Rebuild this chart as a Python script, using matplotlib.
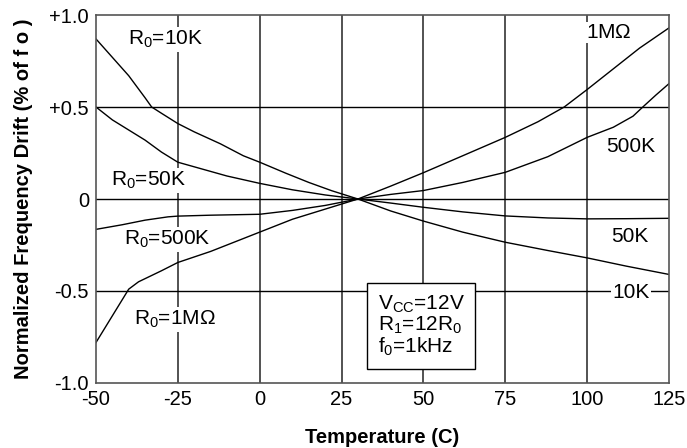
import matplotlib.pyplot as plt

plt.rcParams['font.family'] = ['Liberation Sans', 'DejaVu Sans']
plt.rcParams['mathtext.fontset'] = 'custom'
plt.rcParams['mathtext.rm'] = 'Liberation Sans'
plt.rcParams['mathtext.it'] = 'Liberation Sans'
plt.rcParams['axes.unicode_minus'] = False

# === Dados ===
t_10k = [-50, -45, -40, -35, -33, -30, -25, -20, -12, -5, 0, 8, 15, 22, 30, 40, 50, 62, 75, 88, 100, 112, 125]
d_10k = [0.87, 0.77, 0.67, 0.55, 0.5, 0.466, 0.41, 0.365, 0.3, 0.235, 0.2, 0.14, 0.09, 0.045, 0.0,
         -0.065, -0.12, -0.18, -0.235, -0.28, -0.32, -0.365, -0.41]

t_50k = [-50, -45, -40, -35, -30, -25, -18, -10, 0, 10, 20, 30, 40, 50, 62, 75, 88, 100, 112, 125]
d_50k = [0.5, 0.43, 0.375, 0.32, 0.255, 0.2, 0.165, 0.125, 0.085, 0.05, 0.022, 0.0, -0.022, -0.045,
         -0.07, -0.092, -0.103, -0.108, -0.107, -0.105]

t_500k = [-50, -42, -35, -28, -25, -15, 0, 10, 20, 30, 40, 50, 62, 75, 88, 100, 108, 114, 117, 121, 125]
d_500k = [-0.165, -0.14, -0.115, -0.097, -0.093, -0.088, -0.083, -0.062, -0.035, 0.0, 0.025, 0.046,
          0.09, 0.145, 0.23, 0.335, 0.39, 0.45, 0.5, 0.565, 0.627]

t_1m = [-50, -45, -40, -37, -30, -25, -15, -5, 0, 10, 20, 30, 40, 50, 62, 75, 85, 93, 100, 116, 125]
d_1m = [-0.78, -0.635, -0.49, -0.45, -0.39, -0.345, -0.285, -0.215, -0.18, -0.11, -0.055, 0.0, 0.07,
        0.143, 0.235, 0.335, 0.42, 0.5, 0.595, 0.82, 0.93]

x_ticks = [-50, -25, 0, 25, 50, 75, 100, 125]
y_ticks = [-1.0, -0.5, 0, 0.5, 1.0]
y_labels = ['-1.0', '-0.5', '0', '+0.5', '+1.0']

# === Figura ===
fig = plt.figure(figsize=(6.87, 4.48), dpi=100)
ax = fig.add_axes([0.1397, 0.1451, 0.8341, 0.8214])

for xv in x_ticks[1:-1]:
    ax.axvline(xv, color='#444444', lw=1.3, zorder=1)
for yv in [-0.5, 0, 0.5]:
    ax.axhline(yv, color='black', lw=1.0, zorder=1)

for t, d in [(t_10k, d_10k), (t_50k, d_50k), (t_500k, d_500k), (t_1m, d_1m)]:
    ax.plot(t, d, color='black', lw=1.0, zorder=2)

ax.set_xlim(-50, 125)
ax.set_ylim(-1.0, 1.0)
ax.set_xticks(x_ticks)
ax.set_yticks(y_ticks)
ax.set_yticklabels(y_labels)
ax.tick_params(length=0, labelsize=14.5, pad=5)
for s in ax.spines.values():
    s.set_color('#555555')
    s.set_linewidth(1.2)

fs = 15
white = dict(facecolor='white', edgecolor='none', pad=1.0)
labels = [
    (-28.9, 0.867, 'R$_0$=10K'),
    (-34.1, 0.10, 'R$_0$=50K'),
    (-28.3, -0.22, 'R$_0$=500K'),
    (-26.0, -0.655, 'R$_0$=1M$\\Omega$'),
    (106.7, 0.905, '1M$\\Omega$'),
    (113.4, 0.285, '500K'),
    (113.1, -0.204, '50K'),
    (113.4, -0.508, '10K'),
]
# rótulos ficam acima da grade mas abaixo das curvas
for x, y, s in labels:
    ax.text(x, y, s, fontsize=fs, ha='center', va='center', bbox=white, zorder=1.5)

ax.text(36.0, -0.69, 'V$_{CC}$=12V\nR$_1$=12R$_0$\nf$_0$=1kHz', fontsize=fs,
        ha='left', va='center', linespacing=1.0, zorder=3,
        bbox=dict(facecolor='white', edgecolor='black', lw=1.0, boxstyle='square,pad=0.5'))

ax.set_xlabel('Temperature (C)', fontsize=14.5, fontweight='bold', labelpad=14)
ax.set_ylabel('Normalized Frequency Drift (% of f o )', fontsize=14.5, fontweight='bold', labelpad=12)

fig.savefig('out.png', dpi=100)
